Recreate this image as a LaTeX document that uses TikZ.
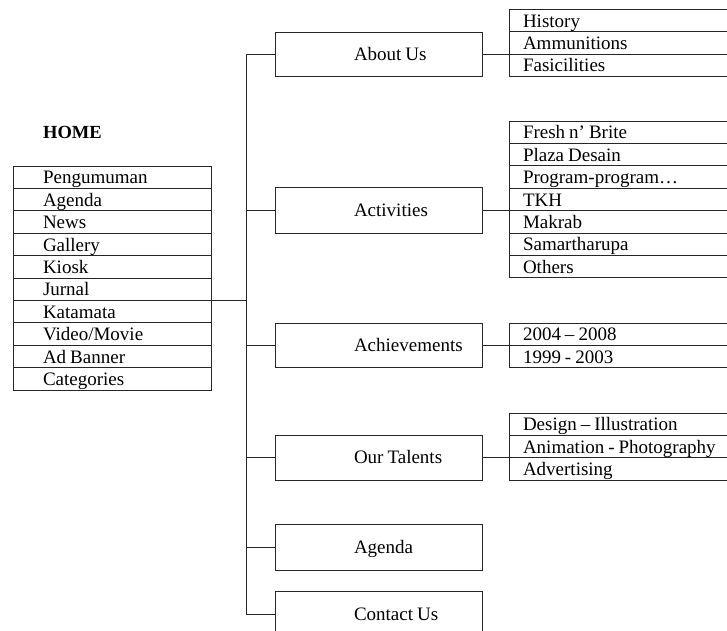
\documentclass[tikz,border=0pt]{standalone}
\usepackage{fontspec}
\setmainfont{Liberation Serif}
\newcommand\tightsp{\spaceskip=4pt\relax}
\begin{document}
\begin{tikzpicture}[x=1pt,y=-1pt,
  ln/.style={draw=black!85, line width=0.9pt},
  txt/.style={font=\fontsize{19}{20}\selectfont, execute at begin node=\tightsp},
  cell/.style={ln, txt, rectangle, inner sep=0pt, minimum height=22.4pt,
    text height=17.9pt, text depth=4.5pt, align=left},
  lcell/.style={cell, text width=198pt, minimum width=198pt},
  rcell/.style={cell, text width=236pt, minimum width=236pt},
  mid/.style={ln, txt, rectangle, inner sep=0pt, minimum width=207pt, text width=207pt,
    align=left, text height=16.6pt, text depth=4pt}]
\useasboundingbox (0,0) rectangle (727,630);
\clip (0,0) rectangle (727,630);

% HOME
\node[anchor=base west, inner sep=0pt, font=\fontsize{18.5}{20}\selectfont\bfseries] (home) at (43,138) {HOME};

% left list
\foreach \t [count=\i] in {Pengumuman,Agenda,News,Gallery,Kiosk,Jurnal,Katamata,Video/Movie,Ad Banner,Categories}
  \node[lcell] (L\i) at (112,{166+\i*22.4-11.2}) {\hspace*{30pt}\t};

% middle boxes
\node[mid, minimum height=44pt] (about) at (378.5,54) {\hspace*{79pt}About Us};
\node[mid, minimum height=46pt] (act) at (378.5,210) {\hspace*{79pt}Activities};
\node[mid, minimum height=44pt] (ach) at (378.5,345) {\hspace*{79pt}Achievements};
\node[mid, minimum height=45pt] (tal) at (378.5,457.5) {\hspace*{79pt}Our Talents};
\node[mid, minimum height=46pt] (age) at (378.5,547) {\hspace*{79pt}Agenda};
\node[mid, minimum height=46pt] (con) at (378.5,614) {\hspace*{79pt}Contact Us};

% right lists
\foreach \t [count=\i] in {History,Ammunitions,Fasicilities}
  \node[rcell] (A\i) at (627,{9.2+\i*22.4-11.2}) {\hspace*{14pt}\t};
\foreach \t [count=\i] in {Fresh n’ Brite,Plaza Desain,Program-program…,TKH,Makrab,Samartharupa,Others}
  \node[rcell] (B\i) at (627,{121+\i*22.4-11.2}) {\hspace*{14pt}\t};
\foreach \t [count=\i] in {2004 – 2008,1999 - 2003}
  \node[rcell] (C\i) at (627,{323+\i*22.4-11.2}) {\hspace*{14pt}\t};
\foreach \t [count=\i] in {Design – Illustration,Animation - Photography,Advertising}
  \node[rcell] (D\i) at (627,{413+\i*22.4-11.2}) {\hspace*{14pt}\t};

% spine
\coordinate (sp) at (246,54);
\draw[ln] (about.west) -- (about.west -| sp) -- (con.west -| sp) -- (con.west);
\foreach \n in {act,ach,tal,age}
  \draw[ln] (\n.west) -- (\n.west -| sp);
\draw[ln] (L6.south east) -- (L6.south east -| sp);

% right connectors
\draw[ln] (about.east) -- (about.east -| A1.west);
\draw[ln] (act.east) -- (act.east -| B1.west);
\draw[ln] (ach.east) -- (ach.east -| C1.west);
\draw[ln] (tal.east) -- (tal.east -| D1.west);
\end{tikzpicture}
\end{document}
